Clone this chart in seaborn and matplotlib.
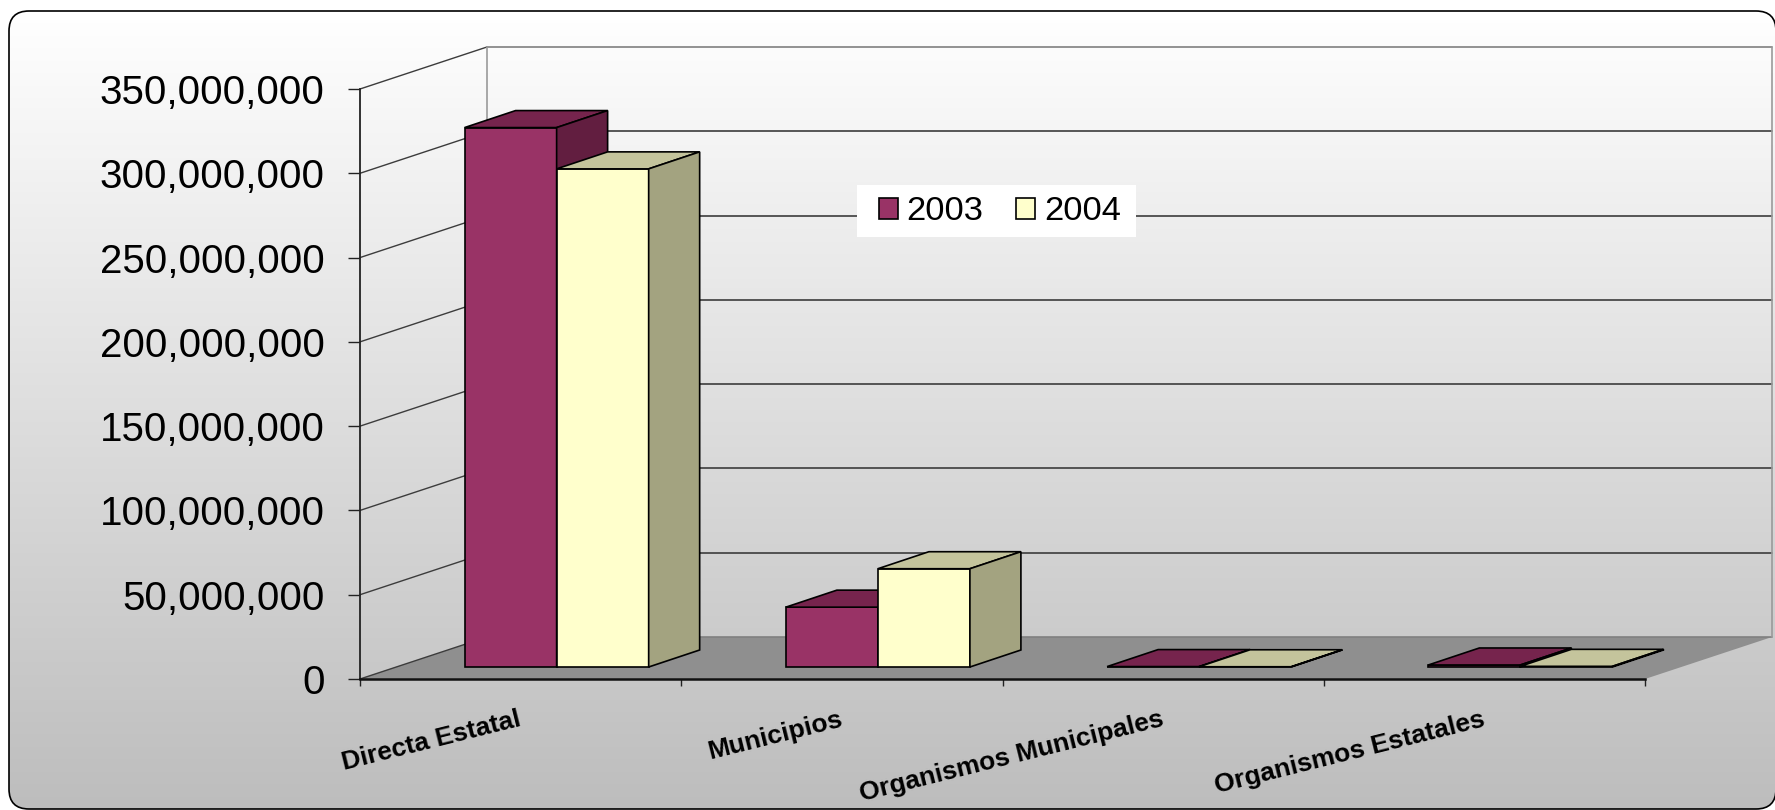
import numpy as np
import pandas as pd
import seaborn as sns
import matplotlib
matplotlib.use('Agg')
import matplotlib.pyplot as plt
from matplotlib.patches import Polygon, FancyBboxPatch, Patch, Rectangle
from matplotlib.lines import Line2D
from matplotlib.transforms import Affine2D, IdentityTransform
from matplotlib.colors import LinearSegmentedColormap
from matplotlib.ticker import FuncFormatter

# datos
categorias = ['Directa Estatal', 'Municipios', 'Organismos Municipales', 'Organismos Estatales']
anios = ['2003', '2004']
monto_2003 = [320000000, 35500000, 250000, 1200000]
monto_2004 = [295500000, 58300000, 150000, 400000]
y_ticks = [0, 50000000, 100000000, 150000000, 200000000, 250000000, 300000000, 350000000]

colores_frente = ['#993366', '#ffffcc']
colores_arriba = ['#76244d', '#c4c49c']
colores_lado = ['#621e40', '#a3a380']

sns.set_theme(style='white')
plt.rcParams['font.family'] = ['Liberation Sans', 'DejaVu Sans']
plt.rcParams['text.color'] = 'black'

df = pd.DataFrame({'Categoria': categorias * 2,
                   'Monto': monto_2003 + monto_2004,
                   'Anio': [anios[0]] * 4 + [anios[1]] * 4})

W, H = 1775, 810
fig = plt.figure(figsize=(W / 100, H / 100), dpi=100)
fig.patch.set_facecolor('white')

# fondo con degradado y marco redondeado
bg = fig.add_axes([0, 0, 1, 1], zorder=-10)
bg.set_xlim(0, W)
bg.set_ylim(0, H)
bg.axis('off')
marco = FancyBboxPatch((9, 1), 1767, 798, boxstyle='round,pad=0,rounding_size=20',
                       facecolor='none', edgecolor='black', lw=1.2, zorder=3)
bg.add_patch(marco)
cmap_fondo = LinearSegmentedColormap.from_list('fondo', ['#bdbdbd', '#ffffff'])
grad = np.linspace(1, 0, 256)[:, None]
im = bg.imshow(grad, extent=[9, 1776, 1, 799], aspect='auto', cmap=cmap_fondo,
               origin='upper', zorder=1)
im.set_clip_path(marco)

# ejes principales (plano frontal)
ax = fig.add_axes([360 / W, (H - 679) / H, (1645 - 360) / W, (679 - 89) / H])
ax.patch.set_alpha(0)

sns.barplot(data=df, x='Categoria', y='Monto', hue='Anio', palette=colores_frente,
            width=0.573, saturation=1, edgecolor='black', linewidth=1.2,
            ax=ax, legend=False)
ax.set_xlim(-0.5, 3.5)
ax.set_ylim(0, 350000000)
ax.set_xlabel('')
ax.set_ylabel('')

fr = np.array([36, 12])     # desplazamiento de la cara frontal de las barras
prof = np.array([51, 17])   # profundidad de las barras
pared = np.array([127, 42]) # profundidad de la pared del fondo

T = ax.transData
ident = IdentityTransform()

# piso
a0 = T.transform((-0.5, 0))
b0 = T.transform((3.5, 0))
piso = Polygon([a0, b0, b0 + pared, a0 + pared], closed=True, facecolor='#8f8f8f',
               edgecolor='none', transform=ident, clip_on=False, zorder=1)
ax.add_patch(piso)

# cuadricula en paredes
for yt in y_ticks:
    p = T.transform((-0.5, yt))
    q = T.transform((3.5, yt))
    col = '#3c3c3c' if 0 < yt < y_ticks[-1] else '#808080'
    ax.add_line(Line2D([p[0], p[0] + pared[0]], [p[1], p[1] + pared[1]], color='#3c3c3c',
                       lw=1, transform=ident, clip_on=False, zorder=2))
    ax.add_line(Line2D([p[0] + pared[0], q[0] + pared[0]], [p[1] + pared[1], q[1] + pared[1]],
                       color=col, lw=1.2, transform=ident, clip_on=False, zorder=2))
p0 = T.transform((-0.5, 0)) + pared
p1 = T.transform((-0.5, y_ticks[-1])) + pared
q0 = T.transform((3.5, 0)) + pared
q1 = T.transform((3.5, y_ticks[-1])) + pared
for (u, v) in [(p0, p1), (q0, q1)]:
    ax.add_line(Line2D([u[0], v[0]], [u[1], v[1]], color='#9a9a9a', lw=1.2,
                       transform=ident, clip_on=False, zorder=2))

# barras en 3D
for j, cont in enumerate(ax.containers):
    for bar in cont:
        x0, y0 = T.transform((bar.get_x(), 0))
        x1, y1 = T.transform((bar.get_x() + bar.get_width(), bar.get_height()))
        bar.set_transform(T + Affine2D().translate(*fr))
        bar.set_clip_on(False)
        bar.set_zorder(10 + j)
        x0, x1 = x0 + fr[0], x1 + fr[0]
        y0, y1 = y0 + fr[1], y1 + fr[1]
        arriba = Polygon([(x0, y1), (x1, y1), (x1 + prof[0], y1 + prof[1]), (x0 + prof[0], y1 + prof[1])],
                         closed=True, facecolor=colores_arriba[j], edgecolor='black', lw=1.2,
                         transform=ident, clip_on=False, zorder=10 + j)
        lado = Polygon([(x1, y0), (x1 + prof[0], y0 + prof[1]), (x1 + prof[0], y1 + prof[1]), (x1, y1)],
                       closed=True, facecolor=colores_lado[j], edgecolor='black', lw=1.2,
                       transform=ident, clip_on=False, zorder=10 + j)
        ax.add_patch(arriba)
        ax.add_patch(lado)

# ejes y etiquetas
for s in ['top', 'right']:
    ax.spines[s].set_visible(False)
ax.spines['left'].set_color('#222222')
ax.spines['left'].set_linewidth(1.3)
ax.spines['bottom'].set_color('#111111')
ax.spines['bottom'].set_linewidth(1.8)
ax.spines['left'].set_zorder(3)
ax.spines['bottom'].set_zorder(3)

ax.set_yticks(y_ticks)
ax.yaxis.set_major_formatter(FuncFormatter(lambda v, p: f'{v:,.0f}'))
ax.tick_params(axis='y', left=True, direction='out', length=8.6, width=1, color='#222222',
               pad=17, labelsize=29, labelcolor='black')

ax.set_xticks(np.arange(-0.5, 4, 1), labels=[''] * 5)
ax.tick_params(axis='x', which='major', bottom=True, direction='out', length=5, width=1,
               color='#222222')
ax.set_xticks(range(len(categorias)), minor=True)
ax.set_xticklabels(categorias, minor=True, rotation=14, ha='right', va='center',
                   rotation_mode='anchor', fontweight='bold', fontsize=19, color='black')
ax.tick_params(axis='x', which='minor', bottom=True, length=0, pad=28.8, labelcolor='black')

# leyenda: caja blanca y entradas
caja = Rectangle((857, H - 237), 279, 52, transform=IdentityTransform(),
                 facecolor='white', edgecolor='none', zorder=4)
fig.add_artist(caja)
handles = [Patch(facecolor=colores_frente[i], edgecolor='black', lw=1.2, label=anios[i])
           for i in range(2)]
leg = fig.legend(handles=handles, loc='center', bbox_to_anchor=(1000 / W, 1 - 212 / H),
                 ncol=2, frameon=False, fontsize=24.8, handlelength=0.55, handleheight=0.55,
                 handletextpad=0.25, columnspacing=0.95, borderpad=0.2)
leg.set_zorder(5)
for t in leg.get_texts():
    t.set_color('black')

fig.savefig('out.png', dpi=100)
